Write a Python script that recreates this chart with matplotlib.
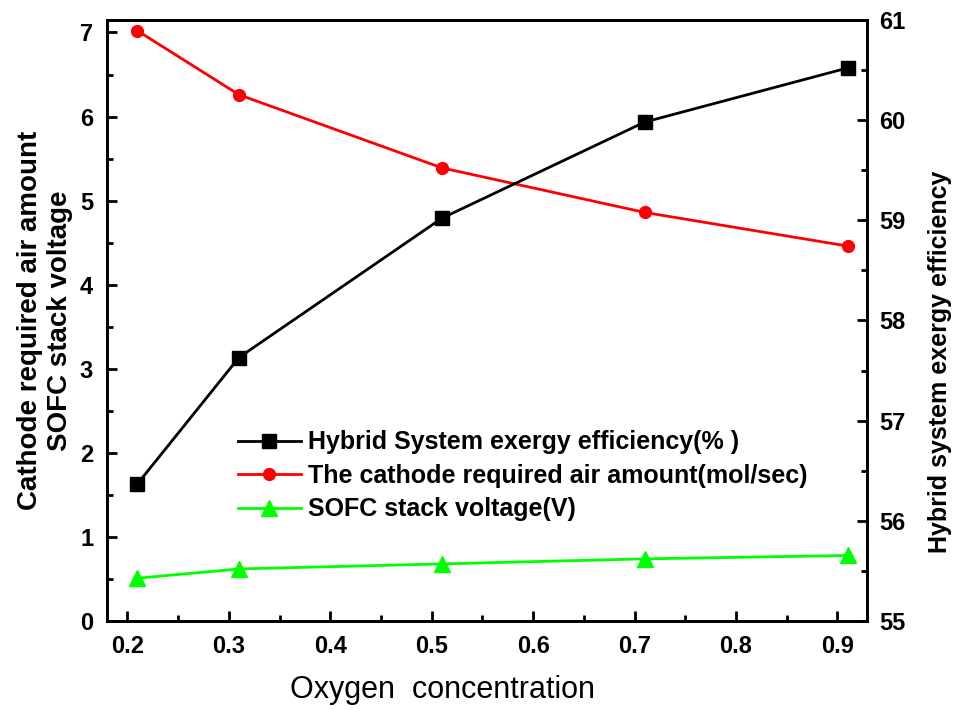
import matplotlib
matplotlib.use("Agg")
import matplotlib.pyplot as plt
from matplotlib.ticker import MultipleLocator

plt.rcParams["font.family"] = ["Liberation Sans", "DejaVu Sans"]

oxygen = [0.21, 0.31, 0.51, 0.71, 0.91]
exergy_eff = [56.37, 57.63, 59.02, 59.98, 60.52]
air_amount = [7.02, 6.26, 5.39, 4.86, 4.46]
stack_voltage = [0.51, 0.62, 0.68, 0.74, 0.78]


def style_axis(ax, pad):
    for s in ax.spines.values():
        s.set_linewidth(2)
    ax.tick_params(which="both", direction="in", width=2)
    ax.tick_params(which="major", length=7, labelsize=17)
    ax.tick_params(which="minor", length=4)
    ax.tick_params(axis="y", pad=pad)
    ax.tick_params(axis="x", pad=10)
    for lab in ax.get_xticklabels() + ax.get_yticklabels():
        lab.set_fontweight("bold")


def main():
    fig = plt.figure(figsize=(9.6, 7.09), dpi=100)
    ax = fig.add_axes([0.1115, 0.124, 0.7915, 0.848])
    ax2 = ax.twinx()

    h1, = ax2.plot(oxygen, exergy_eff, color="black", lw=2, marker="s",
                   markersize=10, label="Hybrid System exergy efficiency(% )")
    h2, = ax.plot(oxygen, air_amount, color="red", lw=2, marker="o",
                  markersize=8.5, label="The cathode required air amount(mol/sec)")
    h3, = ax.plot(oxygen, stack_voltage, color="#00ff00", lw=2, marker="^",
                  markersize=12, label="SOFC stack voltage(V)")

    ax.set_xlim(0.18, 0.929)
    ax.set_ylim(0, 7.15)
    ax2.set_ylim(55, 61)

    ax.xaxis.set_major_locator(MultipleLocator(0.1))
    ax.xaxis.set_minor_locator(MultipleLocator(0.05))
    ax.yaxis.set_major_locator(MultipleLocator(1))
    ax.yaxis.set_minor_locator(MultipleLocator(0.5))
    ax2.yaxis.set_major_locator(MultipleLocator(1))
    ax2.yaxis.set_minor_locator(MultipleLocator(0.5))

    style_axis(ax, 10)
    style_axis(ax2, 9)

    ax.set_xlabel("Oxygen  concentration", fontsize=22)
    ax.xaxis.set_label_coords(0.441, -0.09)
    ax.set_ylabel("Cathode required air amount\nSOFC stack voltage",
                  fontsize=20, fontweight="bold")
    ax.yaxis.set_label_coords(-0.045, 0.5)
    ax2.set_ylabel("Hybrid system exergy efficiency", fontsize=18,
                   fontweight="semibold")
    ax2.yaxis.set_label_coords(1.08, 0.431)

    ax.legend(handles=[h1, h2, h3], loc="upper left",
              bbox_to_anchor=(0.156, 0.338), frameon=False,
              prop={"weight": "bold", "size": 18},
              handlelength=2.5, handletextpad=0.3, labelspacing=0.38,
              borderpad=0)

    fig.savefig("out.png", dpi=100)


if __name__ == "__main__":
    main()
